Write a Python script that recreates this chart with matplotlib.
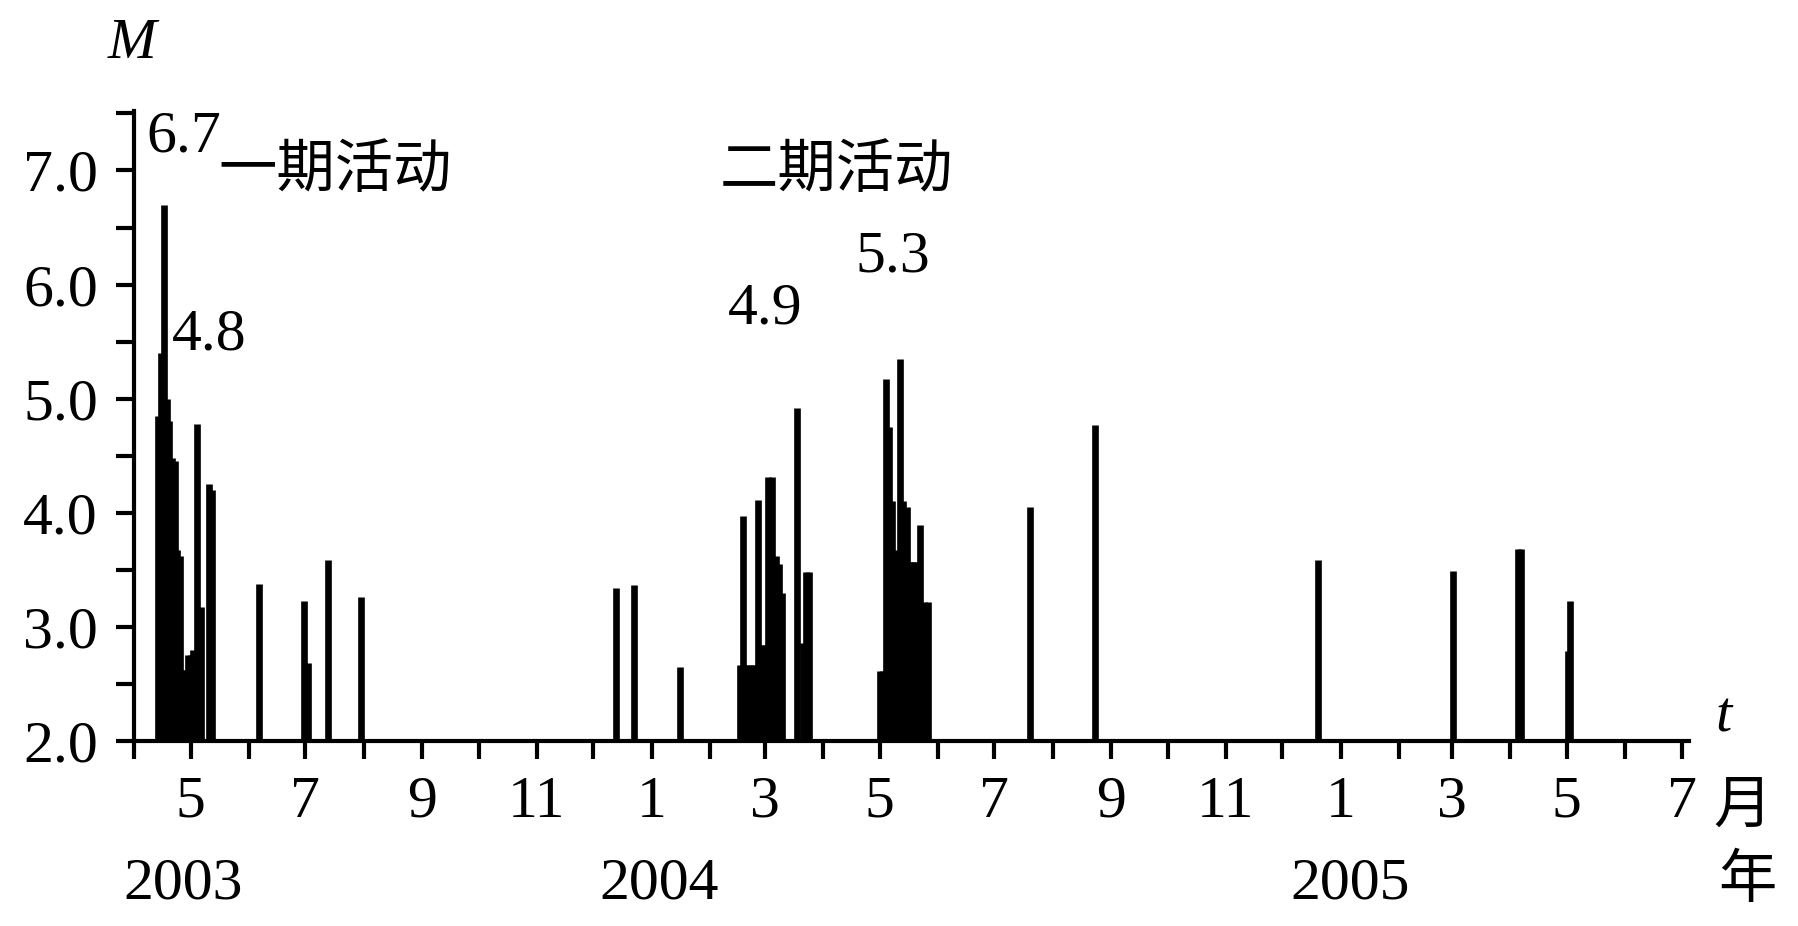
import matplotlib
matplotlib.use('Agg')
import matplotlib.pyplot as plt
import matplotlib.dates as mdates
import matplotlib.transforms as mtransforms
from matplotlib.ticker import FixedLocator, FuncFormatter, NullFormatter
import pandas as pd

# ---------------- data ----------------
event_dates = [
    # first phase 2003
    '2003-04-14 00:00', '2003-04-15 12:00', '2003-04-17 00:00', '2003-04-18 06:00',
    '2003-04-19 12:00', '2003-04-21 00:00', '2003-04-22 12:00', '2003-04-24 00:00',
    '2003-04-25 06:00', '2003-04-26 12:00', '2003-04-28 00:00', '2003-04-29 12:00',
    '2003-05-01 00:00', '2003-05-02 12:00', '2003-05-04 12:00', '2003-05-06 12:00',
    '2003-05-11 00:00', '2003-05-12 06:00',
    '2003-06-06 12:00', '2003-06-30 12:00', '2003-07-02 12:00', '2003-07-13 00:00',
    '2003-07-30 12:00',
    '2003-12-13 00:00', '2003-12-22 12:00', '2004-01-16 00:00',
    # second phase 2004
    '2004-02-16 18:00', '2004-02-18 12:00', '2004-02-20 00:00', '2004-02-21 12:00',
    '2004-02-23 00:00', '2004-02-24 12:00', '2004-02-26 06:00', '2004-02-27 18:00',
    '2004-02-29 06:00', '2004-03-01 12:00', '2004-03-03 00:00', '2004-03-05 00:00',
    '2004-03-07 00:00', '2004-03-08 12:00', '2004-03-10 00:00',
    '2004-03-18 09:00', '2004-03-21 06:00', '2004-03-23 00:00', '2004-03-24 12:00',
    '2004-05-01 12:00', '2004-05-02 18:00', '2004-05-04 12:00', '2004-05-05 22:00',
    '2004-05-07 16:00', '2004-05-09 18:00', '2004-05-12 00:00', '2004-05-13 14:00',
    '2004-05-15 08:00', '2004-05-17 00:00', '2004-05-18 06:00', '2004-05-19 08:00',
    '2004-05-20 18:00', '2004-05-22 08:00', '2004-05-24 12:00', '2004-05-26 12:00',
    '2004-07-20 00:00', '2004-08-23 12:00',
    '2004-12-20 00:00',
    '2005-03-01 12:00', '2005-04-05 00:00', '2005-04-06 12:00',
    '2005-05-01 12:00', '2005-05-02 18:00',
]
event_mags = [
    4.85, 5.40, 6.70, 5.00,
    4.80, 4.48, 4.45, 3.67,
    3.62, 2.62, 2.62, 2.75,
    2.75, 2.80, 4.78, 3.17,
    4.25, 4.20,
    3.38, 3.23, 2.68, 3.59,
    3.26,
    3.34, 3.37, 2.65,
    2.67, 3.97, 2.67, 2.67,
    2.67, 2.67, 4.11, 2.84,
    2.84, 2.84, 4.31, 4.31,
    3.62, 3.55, 3.30,
    4.92, 2.86, 3.48, 3.48,
    2.61, 2.61, 5.17, 4.75,
    4.10, 3.67, 5.35, 4.10,
    4.05, 3.57, 3.57, 3.57,
    3.57, 3.89, 3.22, 3.22,
    4.05, 4.77,
    3.59,
    3.49, 3.68, 3.68,
    2.79, 3.23,
]

y_major_ticks = [2.0, 3.0, 4.0, 5.0, 6.0, 7.0]
y_minor_ticks = [2.5, 3.5, 4.5, 5.5, 6.5, 7.5]

year_labels = ['2003', '2004', '2005']
year_label_dates = ['2003-04-27', '2004-01-05', '2005-01-06']

value_labels = ['6.7', '4.8', '4.9', '5.3']
value_label_dates = ['2003-04-27 12:00', '2003-05-11 00:00', '2004-03-01 00:00', '2004-05-08 00:00']
value_label_m = [7.29, 5.55, 5.78, 6.24]

phase_labels = ['一期活动', '二期活动']
phase_label_dates = ['2003-07-17', '2004-04-08']
phase_label_m = [7.0, 7.0]

x_start, x_end = '2003-04-01', '2005-07-05'

# ---------------- plotting ----------------
plt.rcParams['font.family'] = ['Liberation Serif', 'Noto Sans CJK SC', 'DejaVu Sans']

fig = plt.figure(figsize=(17.99, 9.26), dpi=100)
ax = fig.add_axes([0.0745, 0.1998, 0.8644, 0.6802])

dates = pd.to_datetime(event_dates)
ax.vlines(dates, 2.0, event_mags, colors='black', linewidth=4.8)

ax.set_xlim(pd.Timestamp(x_start), pd.Timestamp(x_end))
ax.set_ylim(2.0, 7.52)

for s in ['top', 'right']:
    ax.spines[s].set_visible(False)
for s in ['left', 'bottom']:
    ax.spines[s].set_linewidth(3.0)

ax.yaxis.set_major_locator(FixedLocator(y_major_ticks))
ax.yaxis.set_minor_locator(FixedLocator(y_minor_ticks))
ax.yaxis.set_major_formatter(FuncFormatter(lambda v, p: f'{v:.1f}'))

ax.xaxis.set_major_locator(mdates.MonthLocator(bymonth=[1, 3, 5, 7, 9, 11]))
ax.xaxis.set_minor_locator(mdates.MonthLocator(bymonth=[2, 4, 6, 8, 10, 12]))
ax.xaxis.set_major_formatter(FuncFormatter(lambda v, p: str(mdates.num2date(v).month)))
ax.xaxis.set_minor_formatter(NullFormatter())

ax.tick_params(axis='both', which='both', direction='out', length=13, width=3, colors='black')
ax.tick_params(axis='y', which='major', labelsize=43, pad=13)
ax.tick_params(axis='x', which='major', labelsize=43, pad=12)

# year labels under months
trans = mtransforms.blended_transform_factory(ax.transData, fig.transFigure)
for lab, d in zip(year_labels, year_label_dates):
    ax.text(pd.Timestamp(d), 0.045, lab, transform=trans, ha='center', va='center',
            fontsize=43)

# value annotations
for lab, d, m in zip(value_labels, value_label_dates, value_label_m):
    ax.text(pd.Timestamp(d), m, lab, ha='center', va='center', fontsize=43, clip_on=False)

for lab, d, m in zip(phase_labels, phase_label_dates, phase_label_m):
    ax.text(pd.Timestamp(d), m, lab, ha='center', va='center', fontsize=42,
            family=['Noto Sans CJK SC'], clip_on=False)

# axis name labels
fig.text(0.0734, 0.9525, 'M', ha='center', va='center', fontsize=42, style='italic')
fig.text(0.9583, 0.2257, 't', ha='center', va='center', fontsize=42, style='italic')
fig.text(0.9685, 0.1295, '月', ha='center', va='center', fontsize=42, family=['Noto Sans CJK SC'])
fig.text(0.9715, 0.0495, '年', ha='center', va='center', fontsize=42, family=['Noto Sans CJK SC'])

fig.savefig('out.png', dpi=100, facecolor='white')
